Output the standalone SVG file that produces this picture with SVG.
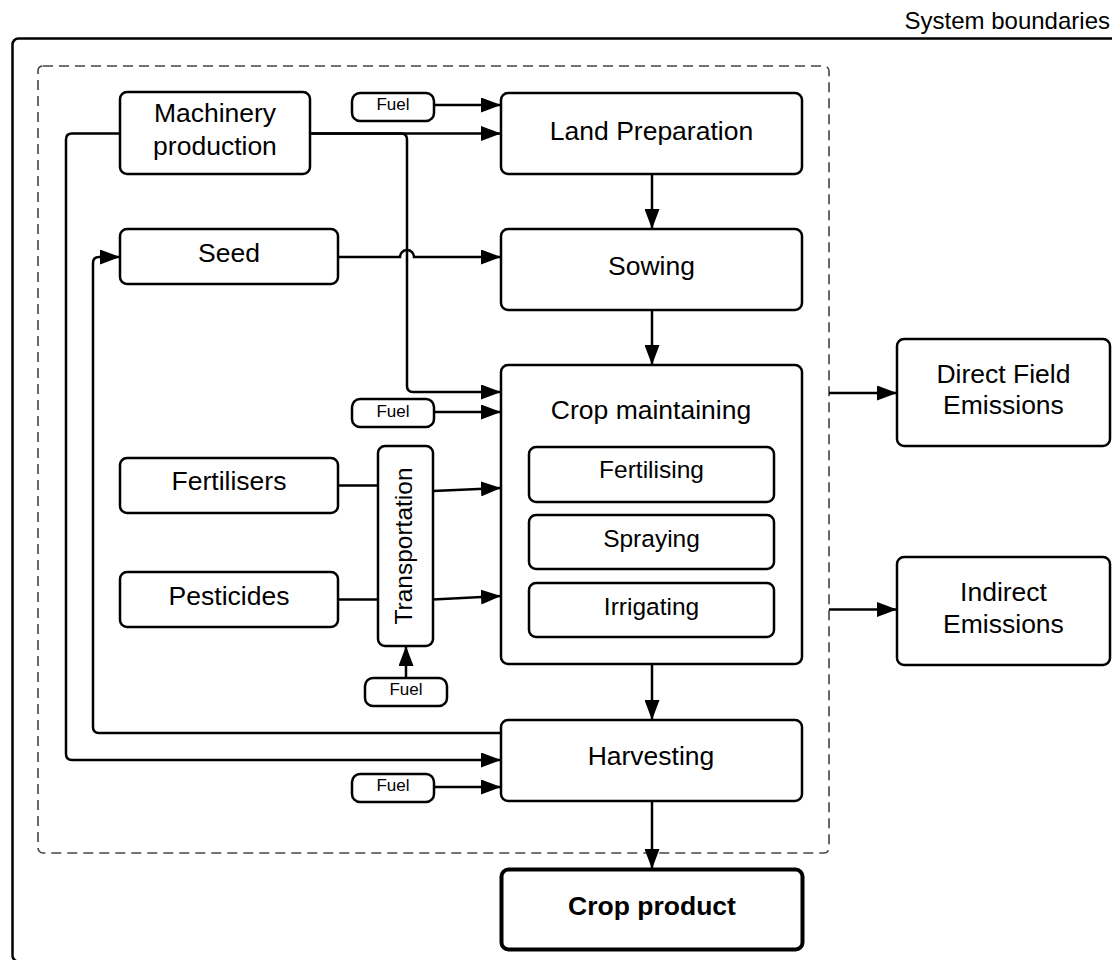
<svg xmlns="http://www.w3.org/2000/svg" width="1112" height="960" viewBox="0 0 1112 960">
<style>
.box{fill:#fff;stroke:#000;stroke-width:2.5}
.pill{fill:#fff;stroke:#000;stroke-width:2.5}
.t{font-family:"Liberation Sans",Arial,sans-serif;font-size:26.5px;text-anchor:middle;fill:#000}
.s{font-size:24.5px}
.f{font-size:17px}
.b{font-weight:bold}
.conn{fill:none;stroke:#000;stroke-width:2.5}
</style>
<defs>
<marker id="ah" markerWidth="20" markerHeight="15" refX="20" refY="7.5" orient="auto" markerUnits="userSpaceOnUse">
<path d="M0,0 L20,7.5 L0,15 z" fill="#000"/>
</marker>
</defs>
<rect width="1112" height="960" fill="#fff"/>
<g id="system-boundary">
<rect x="12.5" y="38.5" width="1112" height="923" rx="6" fill="none" stroke="#000" stroke-width="2.5"/>
<text class="t" x="1110" y="29" style="text-anchor:end;font-size:24px">System boundaries</text>
</g>
<g id="field-boundary">
<rect x="38" y="66" width="791" height="787" rx="5" fill="none" stroke="#444" stroke-width="1.6" stroke-dasharray="10 6"/>
</g>
<g id="connectors">
<path class="conn" d="M434,105 H501" marker-end="url(#ah)"/>
<path class="conn" d="M310,133.5 H501" marker-end="url(#ah)"/>
<path class="conn" d="M310,133.5 H401 Q407,133.5 407,139.5 V386 Q407,392 413,392 H501" marker-end="url(#ah)"/>
<path class="conn" d="M120,133.5 H72 Q66,133.5 66,139.5 V754 Q66,760 72,760 H501" marker-end="url(#ah)"/>
<path class="conn" d="M501,733 H99 Q93,733 93,727 V263 Q93,257 99,257 H120" marker-end="url(#ah)"/>
<path class="conn" d="M338,257 H400 A7,7 0 0 1 414,257 H501" marker-end="url(#ah)"/>
<path class="conn" d="M652,174 V229" marker-end="url(#ah)"/>
<path class="conn" d="M652,310 V365" marker-end="url(#ah)"/>
<path class="conn" d="M434,412 H501" marker-end="url(#ah)"/>
<path class="conn" d="M338,485.5 H378"/>
<path class="conn" d="M338,599.5 H378"/>
<path class="conn" d="M433,491 L501,488" marker-end="url(#ah)"/>
<path class="conn" d="M433,599.5 L501,596" marker-end="url(#ah)"/>
<path class="conn" d="M406,678 V646" marker-end="url(#ah)"/>
<path class="conn" d="M652,664 V720" marker-end="url(#ah)"/>
<path class="conn" d="M434,787 H501" marker-end="url(#ah)"/>
<path class="conn" d="M652,801 V869" marker-end="url(#ah)"/>
<path class="conn" d="M829,393 H897" marker-end="url(#ah)"/>
<path class="conn" d="M829,609.5 H897" marker-end="url(#ah)"/>
</g>
<g id="machinery-production">
<rect class="box" x="120" y="92" width="190" height="82" rx="7"/>
<text class="t" x="215" y="122">Machinery</text>
<text class="t" x="215" y="155">production</text>
</g>
<g id="fuel-land">
<rect class="pill" x="352" y="93" width="82" height="28" rx="8"/>
<text class="t f" x="393" y="109.5">Fuel</text>
</g>
<g id="land-preparation">
<rect class="box" x="501" y="93" width="301" height="81" rx="7"/>
<text class="t" x="651.5" y="140">Land Preparation</text>
</g>
<g id="seed">
<rect class="box" x="120" y="229" width="218" height="55" rx="7"/>
<text class="t" x="229" y="262">Seed</text>
</g>
<g id="sowing">
<rect class="box" x="501" y="229" width="301" height="81" rx="7"/>
<text class="t" x="651.5" y="275">Sowing</text>
</g>
<g id="fuel-crop">
<rect class="pill" x="352" y="399" width="82" height="28" rx="8"/>
<text class="t f" x="393" y="417">Fuel</text>
</g>
<g id="crop-maintaining">
<rect class="box" x="501" y="365" width="301" height="299" rx="7"/>
<text class="t" x="651" y="419">Crop maintaining</text>
</g>
<g id="fertilising">
<rect class="box" x="529" y="447" width="245" height="55" rx="7"/>
<text class="t s" x="651.5" y="478">Fertilising</text>
</g>
<g id="spraying">
<rect class="box" x="529" y="515" width="245" height="54" rx="7"/>
<text class="t s" x="651.5" y="547">Spraying</text>
</g>
<g id="irrigating">
<rect class="box" x="529" y="583" width="245" height="54" rx="7"/>
<text class="t s" x="651.5" y="615">Irrigating</text>
</g>
<g id="fertilisers">
<rect class="box" x="120" y="458" width="218" height="55" rx="7"/>
<text class="t" x="229" y="490">Fertilisers</text>
</g>
<g id="pesticides">
<rect class="box" x="120" y="572" width="218" height="55" rx="7"/>
<text class="t" x="229" y="605">Pesticides</text>
</g>
<g id="transportation">
<rect class="box" x="378" y="446" width="55" height="200" rx="7"/>
<text class="t" style="font-size:24.5px" transform="translate(411.5,546) rotate(-90)" x="0" y="0">Transportation</text>
</g>
<g id="fuel-transport">
<rect class="pill" x="365" y="678" width="82" height="28" rx="8"/>
<text class="t f" x="406" y="695">Fuel</text>
</g>
<g id="harvesting">
<rect class="box" x="501" y="720" width="301" height="81" rx="7"/>
<text class="t" x="651" y="765">Harvesting</text>
</g>
<g id="fuel-harvest">
<rect class="pill" x="352" y="774" width="82" height="28" rx="8"/>
<text class="t f" x="393" y="791">Fuel</text>
</g>
<g id="crop-product">
<rect x="501.5" y="869.5" width="301" height="80" rx="7" fill="#fff" stroke="#000" stroke-width="4"/>
<text class="t b" x="652" y="915">Crop product</text>
</g>
<g id="direct-field-emissions">
<rect class="box" x="897" y="339" width="213" height="107" rx="7"/>
<text class="t" x="1003.5" y="382.5">Direct Field</text>
<text class="t" x="1003.5" y="413.5">Emissions</text>
</g>
<g id="indirect-emissions">
<rect class="box" x="897" y="557" width="213" height="108" rx="7"/>
<text class="t" x="1003.5" y="600.5">Indirect</text>
<text class="t" x="1003.5" y="633">Emissions</text>
</g>
</svg>
